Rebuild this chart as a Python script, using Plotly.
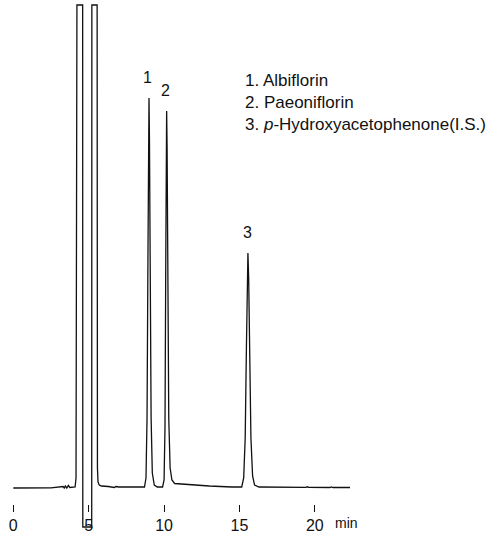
import plotly.graph_objects as go

# Chromatogram trace (time in min, signal in arbitrary units)
time_min = [
    0.00, 2.50, 3.30, 3.38, 3.45, 3.55, 3.65, 3.75, 4.10, 4.16,
    4.22, 4.60, 4.61, 5.20, 5.21, 5.56, 5.58, 5.62, 5.70, 5.85,
    6.30, 6.70, 6.80, 7.00, 7.50, 8.50, 8.70,
    8.80, 8.87, 8.93, 8.97, 9.00, 9.03, 9.08, 9.14, 9.22, 9.35, 9.55,
    9.90, 10.00, 10.06, 10.11, 10.14, 10.17, 10.20, 10.25, 10.31, 10.40, 10.52, 10.70,
    11.50, 13.00, 14.50, 15.15,
    15.28, 15.38, 15.46, 15.51, 15.56, 15.61, 15.67, 15.76, 15.87, 16.00, 16.30,
    18.00, 19.40, 19.50, 19.60, 21.00, 21.10, 21.20, 22.33,
]
signal = [
    0.0, 0.2, 1.5, 0.0, 2.0, 0.0, 2.5, 0.5, 1.0, 10.0,
    483, 483, -39, -39, 483, 483, 20, 6, 3, 2,
    1.5, 0.5, 1.5, 1.0, 1.0, 1.0, 1.0,
    10, 70, 230, 350, 390, 350, 220, 70, 15, 3, 1,
    1, 8, 60, 220, 340, 377, 340, 210, 70, 20, 8, 4.5,
    3.5, 2.0, 1.0, 1.0,
    10, 50, 140, 210, 235, 210, 135, 50, 12, 3, 1,
    0.6, 0.6, 1.2, 0.6, 0.5, 1.0, 0.5, 0.5,
]

peak_labels = ["1", "2", "3"]
peak_times = [8.93, 10.10, 15.56]
peak_heights = [390, 377, 235]

legend_lines = ["1. Albiflorin", "2. Paeoniflorin", "3. <i>p</i>-Hydroxyacetophenone(I.S.)"]

x_ticks = [0, 5, 10, 15, 20]

FONT = "Liberation Sans, Arial, sans-serif"
INK = "#111111"
W, H = 486, 536

fig = go.Figure()
fig.add_trace(go.Scatter(
    x=time_min, y=signal, mode="lines",
    line=dict(color=INK, width=1.3),
    hoverinfo="skip", showlegend=False,
))

for lab, t, h in zip(peak_labels, peak_times, peak_heights):
    fig.add_annotation(x=t, y=h, text=lab, showarrow=False, yshift=21,
                       font=dict(family=FONT, size=16, color=INK))

for i, txt in enumerate(legend_lines):
    fig.add_annotation(xref="paper", yref="paper", x=243 / W, y=1 - (80 + 22 * i) / H,
                       text=txt, showarrow=False, xanchor="left", yanchor="middle",
                       font=dict(family=FONT, size=17, color=INK))

fig.add_annotation(xref="x", yref="paper", x=22.13, y=1 - 523 / H, text="min",
                   showarrow=False, xanchor="center", yanchor="middle",
                   font=dict(family=FONT, size=14, color=INK))

fig.update_layout(
    width=W, height=H,
    margin=dict(l=0, r=0, t=0, b=0),
    paper_bgcolor="white", plot_bgcolor="white",
    xaxis=dict(
        range=[-0.882, 31.35], tickvals=x_ticks, ticktext=[str(v) for v in x_ticks],
        ticks="outside", ticklen=7, tickwidth=1, tickcolor=INK,
        showgrid=False, zeroline=False, showline=False,
        anchor="free", position=1 - 504 / H,
        tickfont=dict(family=FONT, size=16, color=INK),
    ),
    yaxis=dict(range=[-48, 488], visible=False, showgrid=False, zeroline=False),
)

fig.write_html("out.html", config={"displayModeBar": False},
               post_script="document.body.style.margin='0';")
